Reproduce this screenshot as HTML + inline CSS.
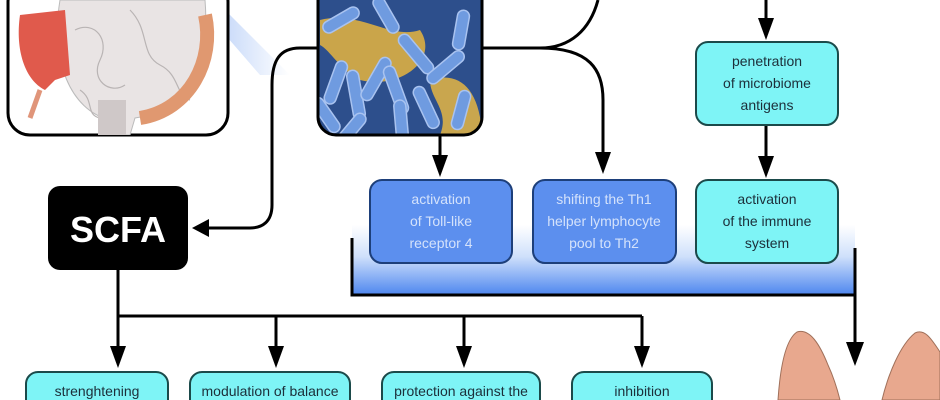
<!DOCTYPE html>
<html><head><meta charset="utf-8"><style>
html,body{margin:0;padding:0;background:#fff;width:940px;height:400px;overflow:hidden}
svg{display:block}
svg text{font-family:"Liberation Sans",sans-serif;}
</style></head><body>
<svg width="940" height="400" viewBox="0 0 940 400" xmlns="http://www.w3.org/2000/svg">
<defs>
<linearGradient id="bar" x1="0" y1="0" x2="0" y2="1">
<stop offset="0" stop-color="#fff"/><stop offset="0.45" stop-color="#cfe0fb"/><stop offset="1" stop-color="#4d86ef"/></linearGradient>
<linearGradient id="wedge" x1="0" y1="0" x2="1" y2="0">
<stop offset="0" stop-color="#8fb3f3"/><stop offset="1" stop-color="#fff"/></linearGradient>
<clipPath id="bc"><rect x="318" y="-20" width="164" height="155" rx="18"/></clipPath>
<clipPath id="gc"><rect x="8" y="-20" width="220" height="155" rx="22"/></clipPath>
</defs>
<polygon points="195,0 215,0 290,75 260,75" fill="url(#wedge)" opacity="0.7"/>
<rect x="8" y="-20" width="220" height="155" rx="22" fill="#fff" stroke="#000" stroke-width="3"/>
<g clip-path="url(#gc)">
<path d="M60,0 C50,60 70,110 110,120 L100,135 L130,135 L135,118 C190,110 210,60 205,0z" fill="#e9e4e4" stroke="#bbb"/>
<g fill="none" stroke="#b9b4b4" stroke-width="1.2">
<path d="M75,30 C95,20 110,40 100,60 C90,80 110,95 125,85"/>
<path d="M130,10 C150,30 140,55 160,65 C180,75 175,95 190,100"/>
<path d="M80,90 C95,100 85,115 100,118"/>
</g>
<path d="M20,15 C15,50 25,80 45,90 L55,80 L70,75 L65,10z" fill="#e05a4c"/>
<path d="M40,90 L30,118" stroke="#e0957a" stroke-width="5"/>
<path d="M205,15 C215,60 190,110 140,118" stroke="#e09870" stroke-width="14" fill="none"/>
<rect x="98" y="100" width="28" height="35" fill="#cfc8c8"/>
</g>
<g clip-path="url(#bc)">
<rect x="318" y="-20" width="164" height="155" fill="#2d4f8c"/>
<path d="M320,20 C360,10 390,40 420,30 C440,60 400,90 360,80 C340,70 330,50 320,45z" fill="#caa54a"/>
<path d="M430,80 C460,70 480,90 482,135 L440,135 C450,110 430,100 430,80z" fill="#c9a64e"/>
<g fill="#6f9be0" stroke="#a9c3f0" stroke-width="1.5">
<rect x="330" y="60" width="12" height="45" rx="6" transform="rotate(20 336 82)"/>
<rect x="350" y="70" width="12" height="50" rx="6" transform="rotate(-10 356 95)"/>
<rect x="370" y="55" width="12" height="48" rx="6" transform="rotate(30 376 79)"/>
<rect x="390" y="65" width="12" height="50" rx="6" transform="rotate(-20 396 90)"/>
<rect x="410" y="30" width="12" height="48" rx="6" transform="rotate(-40 416 54)"/>
<rect x="440" y="45" width="12" height="45" rx="6" transform="rotate(50 446 67)"/>
<rect x="455" y="10" width="12" height="40" rx="6" transform="rotate(10 461 30)"/>
<rect x="420" y="85" width="12" height="45" rx="6" transform="rotate(-25 426 107)"/>
<rect x="335" y="0" width="12" height="40" rx="6" transform="rotate(60 341 20)"/>
<rect x="380" y="-5" width="12" height="40" rx="6" transform="rotate(-30 386 15)"/>
<rect x="455" y="90" width="12" height="40" rx="6" transform="rotate(15 461 110)"/>
<rect x="320" y="95" width="12" height="40" rx="6" transform="rotate(-35 326 115)"/>
<rect x="345" y="110" width="12" height="40" rx="6" transform="rotate(40 351 130)"/>
<rect x="395" y="100" width="12" height="40" rx="6" transform="rotate(-5 401 120)"/>
</g>
</g>
<rect x="318" y="-20" width="164" height="155" rx="18" fill="none" stroke="#000" stroke-width="3"/>
<g fill="none" stroke="#000" stroke-width="3">
<path d="M318,48 L300,48 C280,48 272,60 272,85 L272,205 C272,222 262,228 250,228 L205,228"/>
<path d="M482,48 L540,48 C570,48 590,30 598,0"/>
<path d="M540,48 C590,48 603,70 603,100 L603,155"/>
<path d="M440,135 L440,158"/>
<path d="M766,0 L766,22"/>
<path d="M766,126 L766,160"/>
</g>
<g fill="#000">
<polygon points="209,219 209,237 192,228"/>
<polygon points="595,152 611,152 603,174"/>
<polygon points="432,155 448,155 440,177"/>
<polygon points="758,18 774,18 766,40"/>
<polygon points="758,156 774,156 766,178"/>
</g>
<rect x="352" y="225" width="503" height="70" fill="url(#bar)"/>
<path d="M352,238 L352,295 L855,295 M855,248 L855,345" stroke="#000" stroke-width="3" fill="none"/>
<polygon points="846,342 864,342 855,366" fill="#000"/>
<g stroke="#1d3f7a" stroke-width="2">
<rect x="370" y="180" width="142" height="83" rx="12" fill="#5c8fee"/>
<rect x="533" y="180" width="143" height="83" rx="12" fill="#5c8fee"/>
</g>
<g stroke="#1b4a4a" stroke-width="2" fill="#7ef4f6">
<rect x="696" y="180" width="142" height="83" rx="12"/>
<rect x="696" y="42" width="142" height="83" rx="12"/>
</g>
<g font-size="14" text-anchor="middle" fill="#d4e2fb">
<text x="441" y="204">activation</text><text x="441" y="226">of Toll-like</text><text x="441" y="248">receptor 4</text>
<text x="604" y="204">shifting the Th1</text><text x="604" y="226">helper lymphocyte</text><text x="604" y="248">pool to Th2</text>
</g>
<g font-size="14" text-anchor="middle" fill="#1c2f3a">
<text x="767" y="204">activation</text><text x="767" y="226">of the immune</text><text x="767" y="248">system</text>
<text x="767" y="66">penetration</text><text x="767" y="88">of microbiome</text><text x="767" y="110">antigens</text>
</g>
<rect x="48" y="186" width="140" height="84" rx="12" fill="#000"/>
<text x="118" y="242" font-size="36" font-weight="bold" fill="#fff" text-anchor="middle">SCFA</text>
<g fill="none" stroke="#000" stroke-width="3">
<path d="M118,270 L118,350 M118,316 L642,316 M276,316 L276,350 M464,316 L464,350 M642,316 L642,350"/>
</g>
<g fill="#000">
<polygon points="110,346 126,346 118,368"/>
<polygon points="268,346 284,346 276,368"/>
<polygon points="456,346 472,346 464,368"/>
<polygon points="634,346 650,346 642,368"/>
</g>
<g stroke="#1b4a4a" stroke-width="2" fill="#7ef4f6">
<rect x="26" y="372" width="142" height="40" rx="12"/>
<rect x="190" y="372" width="160" height="40" rx="12"/>
<rect x="382" y="372" width="158" height="40" rx="12"/>
<rect x="572" y="372" width="140" height="40" rx="12"/>
</g>
<g font-size="14" text-anchor="middle" fill="#1c2f3a">
<text x="97" y="396">strenghtening</text>
<text x="270" y="396">modulation of balance</text>
<text x="461" y="396">protection against the</text>
<text x="642" y="396">inhibition</text>
</g>
<path d="M778,400 C780,370 785,340 797,332 C810,328 820,345 828,365 C835,380 838,392 840,400z" fill="#e8a88e" stroke="#a0705a" stroke-width="1"/>
<path d="M882,400 C888,375 900,345 915,333 C925,328 932,340 940,352 L940,400z" fill="#e8a88e" stroke="#a0705a" stroke-width="1"/>
</svg>
</body></html>
